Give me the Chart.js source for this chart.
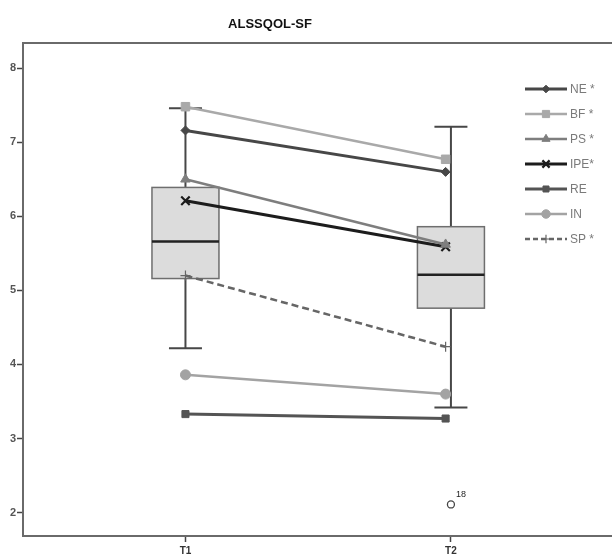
<!DOCTYPE html>
<html>
<head>
<meta charset="utf-8">
<script src="https://cdn.jsdelivr.net/npm/chart.js@4/dist/chart.umd.min.js"></script>
<style>
  html, body { margin: 0; padding: 0; background: #fff; overflow: hidden; }
  #wrap { width: 620px; height: 566px; }
</style>
</head>
<body>
<div id="wrap"><canvas id="chart" width="620" height="566"></canvas></div>
<script>
// categories (time points) and tick labels
const categories = ["T1", "T2"];
const yTicks = [2, 3, 4, 5, 6, 7, 8];

// box plot summary (min, q1, median, q3, max)
const boxX = [1, 2];
const boxMin = [4.22, 3.42];
const boxQ1 = [5.16, 4.76];
const boxMedian = [5.66, 5.21];
const boxQ3 = [6.39, 5.86];
const boxMax = [7.46, 7.21];
const outlierX = [2];
const outlierY = [2.11];
const outlierLabel = ["18"];

// domain means, T1 -> T2
const lineX = [1, 1.98];
const seriesNames = ["NE *", "BF *", "PS *", "IPE*", "RE", "IN", "SP *"];
const NE = [7.16, 6.60];
const BF = [7.48, 6.77];
const PS = [6.50, 5.62];
const IPE = [6.21, 5.59];
const RE = [3.33, 3.27];
const IN = [3.86, 3.60];
const SP = [5.20, 4.24];

const seriesValues = [NE, BF, PS, IPE, RE, IN, SP];
const seriesStyle = [
  { color: "#474747", point: "rectRot", radius: 4.5, width: 3 },
  { color: "#a9a9a9", point: "rect", radius: 6, width: 2.5 },
  { color: "#7e7e7e", point: "triangle", radius: 5.5, width: 2.5 },
  { color: "#1c1c1c", point: "crossRot", radius: 6, width: 3, pw: 2.2 },
  { color: "#545454", point: "rect", radius: 5, width: 3 },
  { color: "#a3a3a3", point: "circle", radius: 5, width: 2.5 },
  { color: "#666666", point: "cross", radius: 5, width: 2.5, pw: 1.2, dash: [7, 4] },
];

const datasets = seriesValues.map((vals, i) => {
  const s = seriesStyle[i];
  return {
    label: seriesNames[i],
    data: vals.map((v, j) => ({ x: lineX[j], y: v })),
    borderColor: s.color,
    backgroundColor: s.color,
    borderWidth: s.width,
    borderDash: s.dash || [],
    pointStyle: s.point,
    pointRadius: s.radius,
    pointBorderColor: s.color,
    pointBackgroundColor: s.color,
    pointBorderWidth: s.pw || 1,
    tension: 0,
  };
});

datasets.push({
  label: "outlier",
  data: outlierX.map((x, i) => ({ x: x, y: outlierY[i] })),
  showLine: false,
  pointStyle: "circle",
  pointRadius: 3.5,
  pointBorderColor: "#444",
  pointBackgroundColor: "#fff",
  pointBorderWidth: 1.3,
});

// boxes, whiskers, frame and title
const boxPlugin = {
  id: "boxes",
  beforeDatasetsDraw(chart) {
    const { ctx, scales: { x, y } } = chart;
    ctx.save();
    boxX.forEach((bx, i) => {
      const px = x.getPixelForValue(bx);
      const half = 33.5, cap = 16.5;
      const top = y.getPixelForValue(boxQ3[i]);
      const bot = y.getPixelForValue(boxQ1[i]);
      const hi = y.getPixelForValue(boxMax[i]);
      const lo = y.getPixelForValue(boxMin[i]);
      const med = y.getPixelForValue(boxMedian[i]);
      ctx.strokeStyle = "#474747";
      ctx.lineWidth = 2;
      ctx.beginPath();
      ctx.moveTo(px, hi); ctx.lineTo(px, top);
      ctx.moveTo(px, bot); ctx.lineTo(px, lo);
      ctx.moveTo(px - cap, hi); ctx.lineTo(px + cap, hi);
      ctx.moveTo(px - cap, lo); ctx.lineTo(px + cap, lo);
      ctx.stroke();
      ctx.fillStyle = "#dcdcdc";
      ctx.fillRect(px - half, top, half * 2, bot - top);
      ctx.strokeStyle = "#6e6e6e";
      ctx.lineWidth = 1.5;
      ctx.strokeRect(px - half, top, half * 2, bot - top);
      ctx.strokeStyle = "#222";
      ctx.lineWidth = 2.5;
      ctx.beginPath();
      ctx.moveTo(px - half, med); ctx.lineTo(px + half, med);
      ctx.stroke();
    });
    ctx.restore();
  },
  afterDraw(chart) {
    const { ctx, chartArea: a, scales: { x, y } } = chart;
    ctx.save();
    // frame (right side runs off the picture)
    ctx.strokeStyle = "#6a6a6a";
    ctx.lineWidth = 2;
    ctx.beginPath();
    ctx.moveTo(a.right + 10, a.top); ctx.lineTo(a.left, a.top);
    ctx.lineTo(a.left, a.bottom); ctx.lineTo(a.right + 10, a.bottom);
    ctx.stroke();
    // title
    ctx.fillStyle = "#111";
    ctx.font = "bold 13px 'Liberation Sans', Arial, sans-serif";
    ctx.textAlign = "center";
    ctx.textBaseline = "middle";
    ctx.fillText("ALSSQOL-SF", 270, 24);
    // outlier case label
    ctx.font = "9px 'Liberation Sans', Arial, sans-serif";
    ctx.fillStyle = "#222";
    ctx.textAlign = "left";
    outlierX.forEach((ox, i) => {
      ctx.fillText(outlierLabel[i], x.getPixelForValue(ox) + 5, y.getPixelForValue(outlierY[i]) - 10);
    });
    // legend
    const lx0 = 525, lx1 = 567, ly0 = 89, step = 25;
    ctx.font = "12px 'Liberation Sans', Arial, sans-serif";
    ctx.textBaseline = "middle";
    seriesNames.forEach((name, i) => {
      const s = seriesStyle[i];
      const ly = ly0 + i * step;
      ctx.strokeStyle = s.color;
      ctx.lineWidth = s.width;
      ctx.setLineDash(s.dash ? [5, 3] : []);
      ctx.beginPath();
      ctx.moveTo(lx0, ly); ctx.lineTo(lx1, ly);
      ctx.stroke();
      ctx.setLineDash([]);
      ctx.fillStyle = s.color;
      ctx.strokeStyle = s.color;
      ctx.lineWidth = s.pw || 1;
      Chart.helpers.drawPoint(ctx, { pointStyle: s.point, radius: s.radius * 0.85, borderWidth: s.pw || 1 }, (lx0 + lx1) / 2, ly);
      ctx.fillStyle = "#7a7a7a";
      ctx.fillText(name, lx1 + 3, ly + 1);
    });
    ctx.restore();
  },
};

new Chart(document.getElementById("chart"), {
  type: "line",
  data: { datasets },
  plugins: [boxPlugin],
  options: {
    responsive: false,
    animation: false,
    layout: { padding: { top: 43, left: 0, right: 0, bottom: 0 } },
    font: { family: "'Liberation Sans', Arial, sans-serif" },
    scales: {
      x: {
        type: "linear",
        min: 0.388,
        max: 2.606,
        afterBuildTicks(s) { s.ticks = boxX.map(v => ({ value: v })); },
        afterFit(s) { s.height = 30; },
        ticks: {
          callback: (v) => categories[boxX.indexOf(v)] || "",
          color: "#333",
          font: { size: 10, weight: "bold" },
          padding: 3,
          maxRotation: 0,
        },
        grid: { drawOnChartArea: false, tickLength: 6, tickColor: "#444", tickWidth: 1.5 },
        border: { display: false },
      },
      y: {
        min: 1.684,
        max: 8.34,
        afterBuildTicks(s) { s.ticks = yTicks.map(v => ({ value: v })); },
        afterFit(s) { s.width = 23; },
        ticks: {
          color: "#555",
          font: { size: 11, weight: "bold" },
          padding: 1,
        },
        grid: { drawOnChartArea: false, tickLength: 6, tickColor: "#444", tickWidth: 1.5 },
        border: { display: false },
      },
    },
    plugins: {
      legend: { display: false },
      title: { display: false },
      tooltip: { enabled: false },
    },
  },
});
</script>
</body>
</html>
